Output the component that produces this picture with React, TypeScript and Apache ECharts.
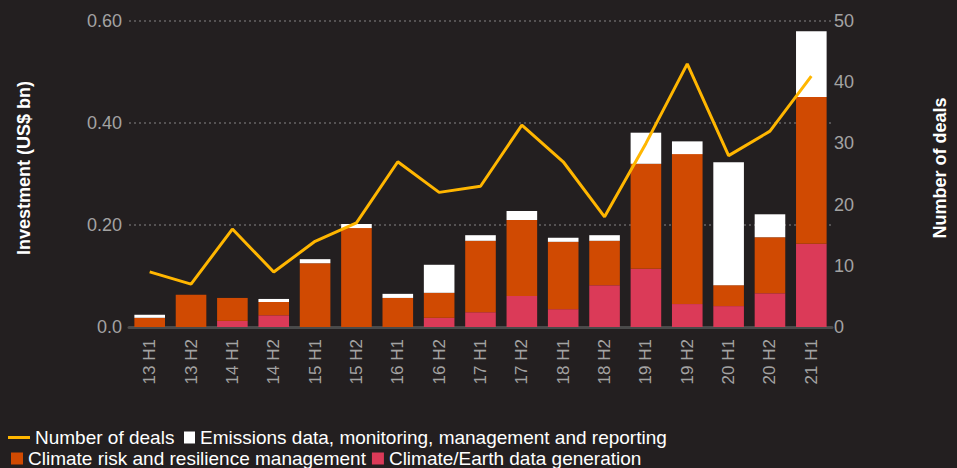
import React, { useEffect, useRef } from "react";
import * as echarts from "echarts";

const categories = ["13 H1", "13 H2", "14 H1", "14 H2", "15 H1", "15 H2", "16 H1", "16 H2", "17 H1", "17 H2", "18 H1", "18 H2", "19 H1", "19 H2", "20 H1", "20 H2", "21 H1"];
const climateEarth = [0, 0, 0.012, 0.023, 0, 0, 0, 0.018, 0.029, 0.061, 0.035, 0.082, 0.114, 0.045, 0.041, 0.066, 0.163];
const climateRisk = [0.018, 0.063, 0.045, 0.026, 0.125, 0.194, 0.057, 0.049, 0.14, 0.149, 0.132, 0.087, 0.206, 0.294, 0.041, 0.11, 0.288];
const emissions = [0.006, 0, 0, 0.006, 0.008, 0.008, 0.008, 0.055, 0.011, 0.0175, 0.008, 0.011, 0.061, 0.025, 0.241, 0.045, 0.129];
const deals = [9, 7, 16, 9, 14, 17, 27, 22, 23, 33, 27, 18, 30, 43, 28, 32, 41];
const leftTicks = { min: 0, max: 0.6, interval: 0.2 };
const rightTicks = { min: 0, max: 50, interval: 10 };

const N_DEALS = "Number of deals";
const N_EMIS = "Emissions data, monitoring, management and reporting";
const N_RISK = "Climate risk and resilience management";
const N_EARTH = "Climate/Earth data generation";

const FONT = "'Liberation Sans', Arial, sans-serif";

export default function App() {
  const ref = useRef<HTMLDivElement>(null);
  useEffect(() => {
    document.body.style.margin = "0";
    document.body.style.background = "#231f20";
    const chart = echarts.init(ref.current!, undefined, { renderer: "svg" });
    const legendText = { color: "#ffffff", fontSize: 19, fontFamily: FONT };
    chart.setOption({
      animation: false,
      backgroundColor: "#231f20",
      textStyle: { fontFamily: FONT },
      grid: { left: 129, right: 118, top: 21, bottom: 141, containLabel: false },
      legend: [
        { left: 8, top: 428, padding: 0, itemWidth: 22, itemHeight: 3, icon: "rect", data: [N_DEALS], textStyle: legendText },
        { left: 184, top: 428, padding: 0, itemWidth: 11, itemHeight: 12, icon: "rect", data: [N_EMIS], textStyle: legendText },
        { left: 11, top: 449, padding: 0, itemWidth: 12, itemHeight: 12, icon: "rect", data: [N_RISK, N_EARTH], textStyle: legendText, itemGap: 6 },
      ],
      xAxis: {
        type: "category",
        data: categories,
        axisLine: { show: true, lineStyle: { color: "#4a4a4a", width: 3 } },
        axisTick: { show: false },
        axisLabel: { rotate: 90, color: "#a3a3a3", fontSize: 17, margin: 12, fontFamily: FONT },
      },
      yAxis: [
        {
          type: "value",
          ...leftTicks,
          name: "Investment (US$ bn)",
          nameLocation: "middle",
          nameRotate: 90,
          nameGap: 96,
          nameTextStyle: { color: "#ffffff", fontWeight: "bold", fontSize: 18, fontFamily: FONT, padding: [0, 0, 0, 12] },
          axisLine: { show: false },
          axisTick: { show: false },
          axisLabel: {
            color: "#a3a3a3",
            fontSize: 18,
            margin: 7,
            fontFamily: FONT,
            formatter: (v: number) => (v === 0 ? "0.0" : v.toFixed(2)),
          },
          splitLine: { show: true, lineStyle: { color: "#555253", type: [2, 3], width: 2 } },
        },
        {
          type: "value",
          ...rightTicks,
          name: N_DEALS,
          nameLocation: "middle",
          nameRotate: 90,
          nameGap: 99,
          nameTextStyle: { color: "#ffffff", fontWeight: "bold", fontSize: 18, fontFamily: FONT, padding: [0, 0, 0, 12] },
          axisLine: { show: false },
          axisTick: { show: false },
          axisLabel: { color: "#a3a3a3", fontSize: 18, margin: 2, fontFamily: FONT },
          splitLine: { show: false },
        },
      ],
      series: [
        { name: N_EARTH, type: "bar", stack: "inv", data: climateEarth, barWidth: "74%", itemStyle: { color: "#db3a58" } },
        { name: N_RISK, type: "bar", stack: "inv", data: climateRisk, itemStyle: { color: "#d04a02" } },
        { name: N_EMIS, type: "bar", stack: "inv", data: emissions, itemStyle: { color: "#ffffff" } },
        {
          name: N_DEALS,
          type: "line",
          yAxisIndex: 1,
          data: deals,
          symbol: "none",
          z: 5,
          lineStyle: { color: "#ffb600", width: 3 },
          itemStyle: { color: "#ffb600" },
        },
      ],
    });
    return () => chart.dispose();
  }, []);
  return <div ref={ref} style={{ width: 957, height: 468 }} />;
}
